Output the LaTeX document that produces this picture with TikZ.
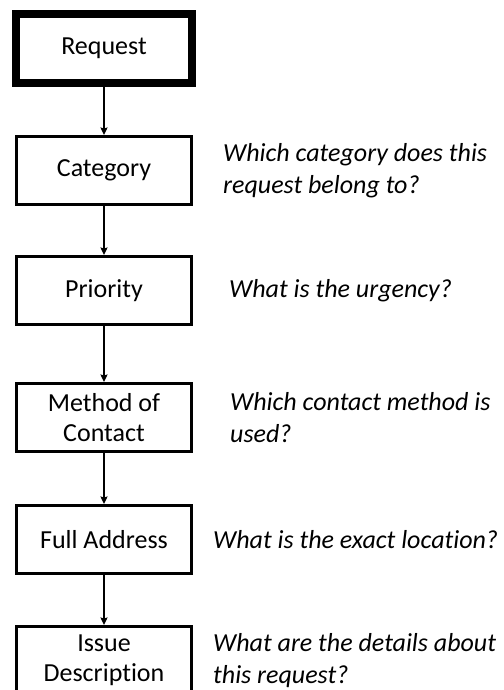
\documentclass[tikz,border=0pt]{standalone}
\usepackage{fontspec}
\setmainfont{Carlito}[Ligatures=NoCommon]
\usetikzlibrary{positioning, arrows.meta}
\begin{document}
\begin{tikzpicture}

% definitions
\tikzstyle{request} = [rectangle, minimum width=176pt, minimum height=69pt, text centered, draw=black, line width=8pt, font=\fontsize{26}{31}\selectfont]

\tikzstyle{field} = [rectangle, minimum width=175pt, minimum height=68pt, text centered, align=center, draw=black, line width=3pt, font=\fontsize{26}{30}\selectfont]

\tikzstyle{question} = [inner sep=0pt, align=left, font=\fontsize{26}{31.5}\selectfont\itshape]

\tikzstyle{arrow} = [->, >={Stealth[length=7.5pt, width=7pt, inset=1pt]}, line width=1.5pt]

% page size
\clip (0,0) rectangle (503pt,-690pt);

% the graph
\node (l0) [request] at (104pt,-48.5pt) {Request};

\node (l1) [field, below=48pt of l0] {Category};

\node (l2) [field, below=49pt of l1] {Priority};

\node (l3) [field, below=56pt of l2] {Method of\\Contact};

\node (l4) [field, below=51pt of l3] {Full Address};

\node (l5) [field, below=50pt of l4] {Issue\\Description};

% the questions
\node (q1) [question, right=30pt of l1] {Which category does this\\request belong to?};

\node (q2) [question, right=36pt of l2] {What is the urgency?};

\node (q3) [question, right=37pt of l3] {Which contact method is\\used?};

\node (q4) [question, right=20pt of l4] {What is the exact location?};

\node (q5) [question, right=20pt of l5] {What are the details about\\this request?};


\draw [arrow] (l0) -- (l1);
\draw [arrow] (l1) -- (l2);
\draw [arrow] (l2) -- (l3);
\draw [arrow] (l3) -- (l4);
\draw [arrow] (l4) -- (l5);

\end{tikzpicture}
\end{document}
